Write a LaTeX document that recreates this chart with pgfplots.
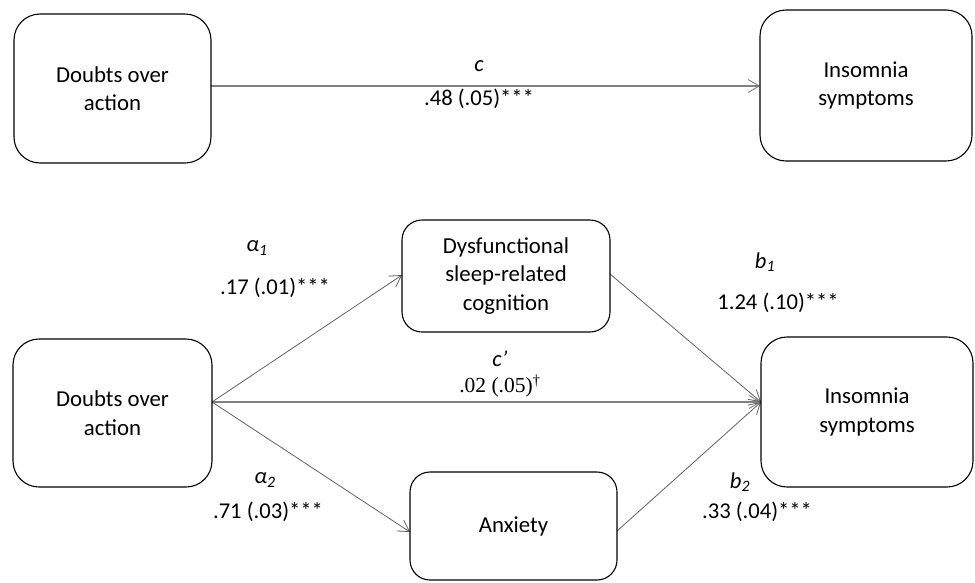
\documentclass[border=0pt]{standalone}
\usepackage{fontspec}
\setmainfont{Carlito}
\newfontfamily\timesfont{Liberation Serif}
\usepackage{pgfplots}
\pgfplotsset{compat=1.18}
\usetikzlibrary{arrows.meta}
\tikzset{
  box/.style={draw=black, line width=1.1pt, align=center, inner sep=0pt,
    font=\fontsize{22.8}{28.5}\selectfont},
  lab/.style={font=\fontsize{22.6}{28}\selectfont, inner sep=0pt},
  diag/.style={draw=black!62, line width=0.8pt, -{Straight Barb[length=11pt, width=13pt, line width=0.8pt]}},
  horiz/.style={draw=black!50, line width=1.3pt, -{Straight Barb[length=11pt, width=13pt, line width=0.9pt]}},
}
\begin{document}
\begin{tikzpicture}
\begin{axis}[
  scale only axis, width=975pt, height=582pt,
  xmin=0, xmax=975, ymin=0, ymax=582, y dir=reverse,
  hide axis, clip=false,
]
\path (rel axis cs:0,0) rectangle (rel axis cs:1,1);
% arrows
\addplot[horiz] coordinates {(211,86) (760,86)};
\addplot[horiz] coordinates {(212,402) (761,402)};
\addplot[diag] coordinates {(212,402) (402,275)};
\addplot[diag] coordinates {(212,402) (410,532)};
\addplot[diag] coordinates {(610,274) (761,402)};
\addplot[diag] coordinates {(617,531) (761,402)};
% boxes
\node[box, rounded corners=26pt, minimum width=197pt, minimum height=149pt] at (axis cs:112.5,88.5) {Doubts over\\action};
\node[box, rounded corners=26pt, minimum width=212pt, minimum height=151pt] at (axis cs:866,85.5) {Insomnia\\symptoms};
\node[box, rounded corners=26pt, minimum width=199pt, minimum height=148pt] at (axis cs:112.5,413) {Doubts over\\action};
\node[box, rounded corners=26pt, minimum width=212pt, minimum height=150pt] at (axis cs:867,412) {Insomnia\\symptoms};
\node[box, rounded corners=20pt, minimum width=208pt, minimum height=112pt] at (axis cs:506,276) {Dysfunctional\\sleep-related\\cognition};
\node[box, rounded corners=20pt, minimum width=207pt, minimum height=108pt] at (axis cs:513.5,526) {Anxiety};
% labels
\node[lab] at (axis cs:479,66) {\textit{c}};
\node[lab] at (axis cs:479,99) {.48 (.05)***};
\node[lab] at (axis cs:257,248) {\textit{α\textsubscript{1}}};
\node[lab] at (axis cs:275,288) {.17 (.01)***};
\node[lab] at (axis cs:765,262) {\textit{b\textsubscript{1}}};
\node[lab] at (axis cs:778,303) {1.24 (.10)***};
\node[lab] at (axis cs:500,359) {\textit{c'}};
\node[lab] at (axis cs:500,386) {\timesfont\fontsize{21.5}{24}\selectfont .02 (.05)\textsuperscript{†}};
\node[lab] at (axis cs:265,480) {\textit{α\textsubscript{2}}};
\node[lab] at (axis cs:268,512) {.71 (.03)***};
\node[lab] at (axis cs:740,482) {\textit{b\textsubscript{2}}};
\node[lab] at (axis cs:757,512) {.33 (.04)***};
\end{axis}
\end{tikzpicture}
\end{document}
